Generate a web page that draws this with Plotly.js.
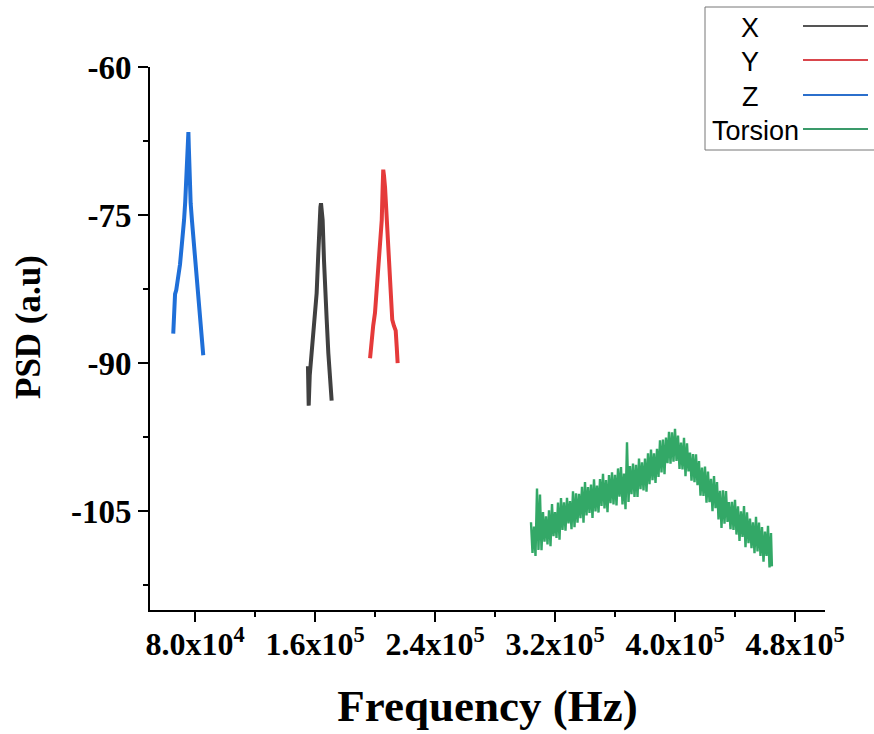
<!DOCTYPE html>
<html>
<head>
<meta charset="utf-8">
<script src="https://cdn.plot.ly/plotly-3.0.1.min.js"></script>
<style>html,body{margin:0;padding:0;background:#fff;}#chart{width:874px;height:734px;}</style>
</head>
<body>
<div id="chart"></div>
<script>
// ---- Data ----
const seriesNames = ["X", "Y", "Z", "Torsion"];

const xFreq = [155300,155800,156500,157500,158900,160000,161100,162200,162900,163600,164000,164500,165100,166000,167100,167800,168900,170000,170600,171100];
const xPSD  = [-90.3,-94.3,-91.2,-89.5,-87.4,-85.0,-82.9,-78.9,-75.5,-74.2,-73.8,-74.8,-75.5,-79.6,-84.3,-85.6,-89.0,-91.0,-92.0,-93.8];

const yFreq = [196700,197800,198800,200000,201200,202200,203300,204500,205100,205500,206000,206700,207800,208900,209600,210500,211500,212600,213800,214500,215100];
const yPSD  = [-89.5,-87.4,-86.2,-84.9,-82.6,-80.6,-78.2,-75.5,-72.2,-70.4,-71.0,-72.2,-75.5,-79.6,-81.0,-82.9,-85.6,-86.2,-86.7,-88.4,-90.0];

const zFreq = [65500,66000,66700,67500,68900,70000,71100,72000,72700,73500,74000,74500,74900,75300,75600,75900,76300,77100,78000,78900,79800,80700,81500,82200,83300,84000,84500,85000,85500];
const zPSD  = [-87.0,-84.8,-83.0,-82.6,-81.3,-80.0,-78.2,-76.9,-75.5,-73.6,-72.2,-71.3,-69.9,-67.5,-66.6,-68.2,-70.3,-73.8,-75.6,-77.2,-78.4,-79.6,-81.2,-82.9,-84.9,-85.8,-87.4,-87.6,-89.2];

const tFreq = [
  304000,305000,306000,307000,308000,309000,310000,311000,312000,313000,
  314000,315000,316000,317000,318000,319000,320000,321000,322000,323000,
  324000,325000,326000,327000,328000,329000,330000,331000,332000,333000,
  334000,335000,336000,337000,338000,339000,340000,341000,342000,343000,
  344000,345000,346000,347000,348000,349000,350000,351000,352000,353000,
  354000,355000,356000,357000,358000,359000,360000,361000,362000,363000,
  364000,365000,366000,367000,368000,369000,370000,371000,372000,373000,
  374000,375000,376000,377000,378000,379000,380000,381000,382000,383000,
  384000,385000,386000,387000,388000,389000,390000,391000,392000,393000,
  394000,395000,396000,397000,398000,399000,400000,401000,402000,403000,
  404000,405000,406000,407000,408000,409000,410000,411000,412000,413000,
  414000,415000,416000,417000,418000,419000,420000,421000,422000,423000,
  424000,425000,426000,427000,428000,429000,430000,431000,432000,433000,
  434000,435000,436000,437000,438000,439000,440000,441000,442000,443000,
  444000,445000,446000,447000,448000,449000,450000,451000,452000,453000,
  454000,455000,456000,457000,458000,459000,460000,461000,462000,463000,
  464000,464600];
const tPSD = [
  -106.11,-109.23,-106.54,-109.53,-102.7,-108.91,-103.3,-108.95,-105.08,-108.07,
  -105.51,-108.37,-104.89,-108.53,-104.28,-107.53,-105.09,-107.69,-104.11,-107.88,
  -103.65,-106.9,-104.1,-106.96,-103.64,-106.24,-103.96,-106.82,-102.98,-106.62,
  -103.17,-106.16,-103.23,-105.7,-102.51,-106.15,-102.05,-105.43,-102.56,-105.16,
  -102.29,-105.67,-101.76,-105.01,-102.4,-105.13,-101.74,-104.47,-101.21,-104.72,
  -101.85,-105.1,-101.32,-104.18,-101.05,-104.3,-101.3,-104.42,-100.66,-103.52,
  -100.53,-104.3,-101.19,-104.8,-98.0,-104.05,-100.42,-103.28,-100.16,-103.54,
  -100.3,-103.55,-99.65,-102.77,-100.04,-102.9,-99.65,-103.03,-99.13,-102.25,
  -98.74,-101.86,-99.13,-102.12,-98.67,-101.53,-97.81,-101.06,-97.74,-101.25,
  -97.54,-100.14,-96.94,-100.19,-97.0,-99.99,-96.65,-99.9,-97.34,-100.72,
  -98.03,-100.76,-97.55,-101.45,-98.11,-100.97,-99.05,-101.91,-99.2,-102.06,
  -99.23,-102.35,-99.91,-103.42,-100.58,-103.44,-100.48,-104.12,-100.97,-104.09,
  -101.72,-105.0,-101.43,-104.68,-102.05,-105.82,-102.93,-106.7,-102.88,-106.26,
  -102.96,-106.08,-104.08,-106.81,-104.03,-106.89,-103.85,-107.36,-104.49,-108.0,
  -105.0,-107.6,-104.47,-108.63,-105.11,-108.23,-105.75,-108.74,-106.13,-109.25,
  -105.55,-109.06,-106.14,-109.52,-106.6,-110.11,-107.06,-109.53,-106.48,-110.7,
  -107.2,-110.58];

const xTickVals = [80000,160000,240000,320000,400000,480000];
const xTickText = ["8.0x10<sup>4</sup>","1.6x10<sup>5</sup>","2.4x10<sup>5</sup>","3.2x10<sup>5</sup>","4.0x10<sup>5</sup>","4.8x10<sup>5</sup>"];
const yTickVals = [-60,-75,-90,-105];
const yTickText = ["-60","-75","-90","-105"];

const colors = {X:"#404040", Y:"#e53a3a", Z:"#1f6fd8", Torsion:"#33a867"};
const legendColors = {X:"#555555", Y:"#d9464c", Z:"#2b6fcc", Torsion:"#3a9a6a"};

// ---- Layout helpers (pixel -> paper) ----
const L = 150, R = 825, T = 67, B = 610;
const px = v => (v - L) / (R - L);
const py = v => (B - v) / (B - T);

const serif = "Liberation Serif, Times New Roman, serif";

const traces = [
  {x: xFreq, y: xPSD, name: "X", mode: "lines", line: {color: colors.X, width: 4}},
  {x: yFreq, y: yPSD, name: "Y", mode: "lines", line: {color: colors.Y, width: 4}},
  {x: zFreq, y: zPSD, name: "Z", mode: "lines", line: {color: colors.Z, width: 4}},
  {x: tFreq, y: tPSD, name: "Torsion", mode: "lines", line: {color: colors.Torsion, width: 2.4}}
];

const legendRowsY = [28, 62, 97, 131];
const legendTextX = [750, 750, 750, 755];
const shapes = [{type: "rect", xref: "paper", yref: "paper", x0: px(705), x1: px(890), y0: py(7), y1: py(150),
                 line: {color: "#777", width: 1}, fillcolor: "rgba(0,0,0,0)"}];
const annotations = [];
seriesNames.forEach((n, i) => {
  annotations.push({xref: "paper", yref: "paper", x: px(legendTextX[i]), y: py(legendRowsY[i]), text: n,
    showarrow: false, xanchor: "center", yanchor: "middle",
    font: {family: "Liberation Sans, Arial, sans-serif", size: 27, color: "#000"}});
  shapes.push({type: "line", xref: "paper", yref: "paper", x0: px(803), x1: px(868),
    y0: py(legendRowsY[i] - 2), y1: py(legendRowsY[i] - 2), line: {color: legendColors[n], width: 2}});
});
// y-axis title placed where the reference draws it
annotations.push({xref: "paper", yref: "paper", x: px(28), y: py(327), text: "PSD (a.u)", textangle: -90,
  showarrow: false, xanchor: "center", yanchor: "middle",
  font: {family: serif, size: 35, color: "#000", weight: "bold"}});

const layout = {
  width: 874, height: 734,
  margin: {l: L, r: 874 - R, t: T, b: 734 - B},
  paper_bgcolor: "#fff", plot_bgcolor: "#fff",
  showlegend: false,
  xaxis: {
    range: [50000, 500000], showgrid: false, zeroline: false,
    showline: true, linecolor: "#000", linewidth: 2,
    ticks: "outside", ticklen: 10, tickwidth: 2, tickcolor: "#000",
    tickmode: "array", tickvals: xTickVals, ticktext: xTickText,
    ticklabelstandoff: -5,
    tickfont: {family: serif, size: 32, color: "#000", weight: "bold"},
    minor: {ticks: "outside", ticklen: 5, tickwidth: 2, tickcolor: "#000", tick0: 0, dtick: 40000, showgrid: false},
    title: {text: "Frequency (Hz)", standoff: 28,
            font: {family: serif, size: 45, color: "#000", weight: "bold"}}
  },
  yaxis: {
    range: [-115, -60], showgrid: false, zeroline: false,
    showline: true, linecolor: "#000", linewidth: 2,
    ticks: "outside", ticklen: 10, tickwidth: 2, tickcolor: "#000",
    tickmode: "array", tickvals: yTickVals, ticktext: yTickText,
    tickfont: {family: serif, size: 33, color: "#000", weight: "bold"},
    minor: {ticks: "outside", ticklen: 5, tickwidth: 2, tickcolor: "#000", tick0: -60, dtick: 7.5, showgrid: false}
  },
  shapes: shapes,
  annotations: annotations
};

Plotly.newPlot("chart", traces, layout, {displayModeBar: false, staticPlot: true});
</script>
</body>
</html>
